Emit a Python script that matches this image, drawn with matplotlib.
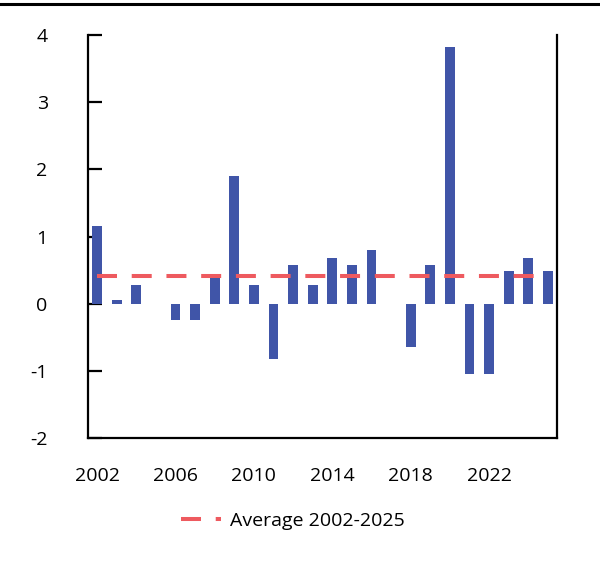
import matplotlib
matplotlib.use("Agg")
import matplotlib.pyplot as plt
from matplotlib.lines import Line2D

plt.rcParams['font.family'] = ['Open Sans', 'DejaVu Sans']
plt.rcParams['lines.scale_dashes'] = False

years = list(range(2002, 2026))
values = [1.16, 0.06, 0.28, 0.0, -0.24, -0.24, 0.40, 1.90, 0.28, -0.82, 0.58, 0.28,
          0.68, 0.58, 0.80, 0.0, -0.64, 0.58, 3.82, -1.04, -1.04, 0.48, 0.68, 0.48]
average = 0.41
avg_label = "Average 2002-2025"
xtick_years = [2002, 2006, 2010, 2014, 2018, 2022]
yticks = [-2, -1, 0, 1, 2, 3, 4]

bar_color = "#4055A8"
avg_color = "#EE5A5F"

W, H = 600, 579
fig = plt.figure(figsize=(W / 100, H / 100), dpi=100)
ax = fig.add_axes([88 / W, 1 - 438 / H, (557 - 88) / W, (438 - 35) / H])

ax.bar(years, values, width=0.5, color=bar_color, zorder=2)
ax.plot([years[0], years[-1]], [average, average], color=avg_color, lw=2.9,
        dashes=(14.4, 10.6), zorder=3, label=avg_label)

ax.set_xlim(2001.54, 2025.46)
ax.set_ylim(-2, 4)
ax.set_yticks(yticks)
ax.set_yticklabels([str(v) for v in yticks])
ax.set_xticks(xtick_years)
ax.set_xticklabels([str(v) for v in xtick_years])

ax.spines['top'].set_visible(False)
for s in ['left', 'right', 'bottom']:
    ax.spines[s].set_linewidth(1.6)
    ax.spines[s].set_color('black')

ax.tick_params(axis='y', direction='in', length=10, width=1.6, pad=29,
               labelsize=14, colors='black')
ax.tick_params(axis='x', length=0, pad=21, labelsize=14, colors='black')

fig.legend(loc='center', bbox_to_anchor=(0.488, 1 - 521 / H), frameon=False,
           fontsize=14, handlelength=2.1, handletextpad=0.45)

fig.add_artist(Line2D([0, 1], [1 - 4 / H, 1 - 4 / H], color='black', lw=2.2,
                      transform=fig.transFigure))

fig.savefig("out.png", dpi=100)
